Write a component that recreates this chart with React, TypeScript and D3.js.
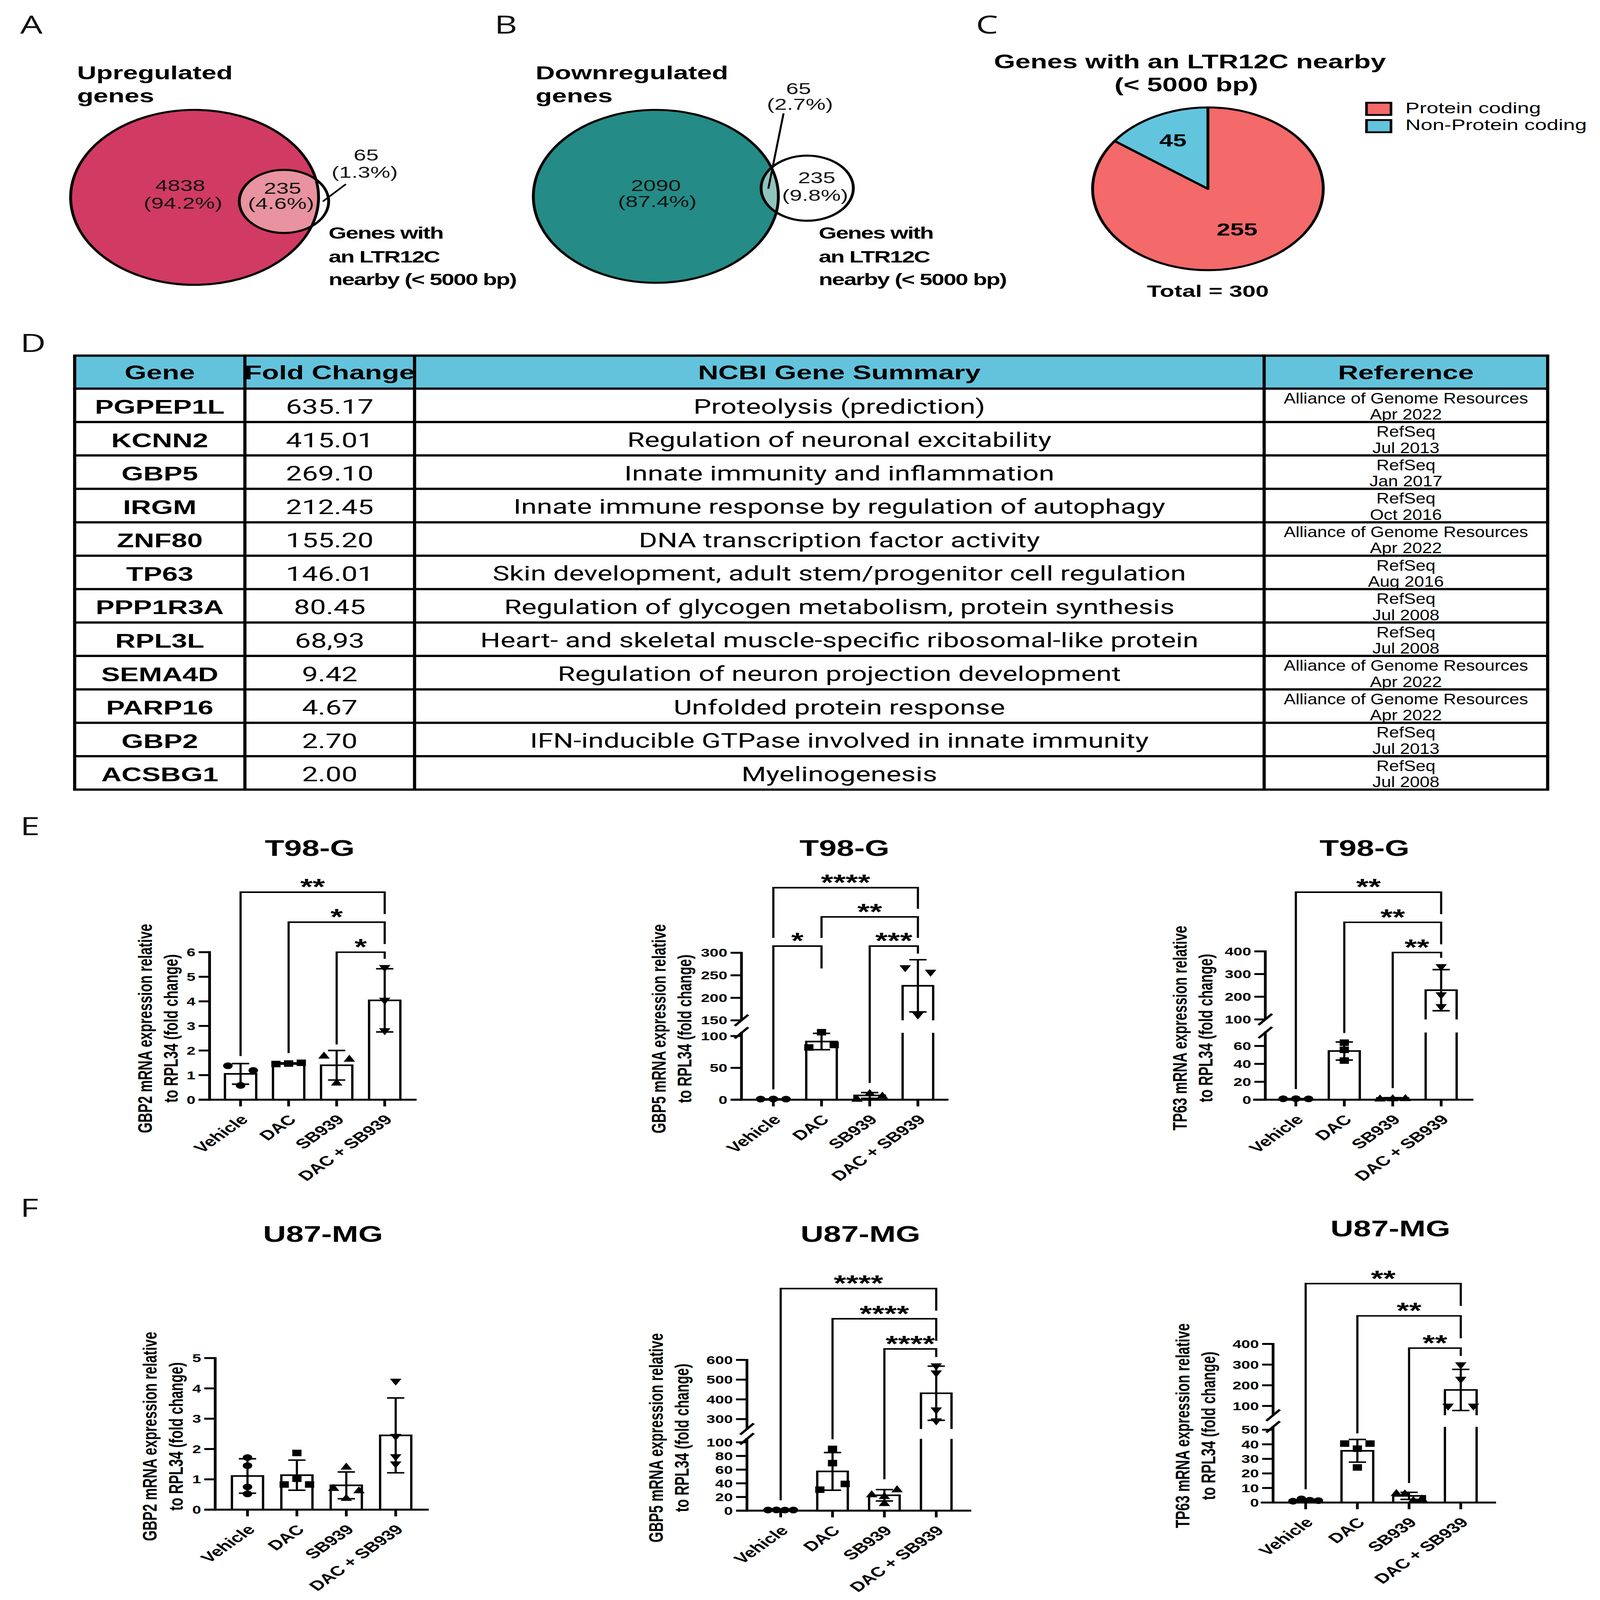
import React, { useEffect } from "react";
import * as d3 from "d3";

const W = 4166;
const H = 5903;
const VW = 1110;
const VH = (VW * H) / W;

const SANS = "'Liberation Sans', Arial, Helvetica, sans-serif";
const ROBOTO = "Roboto, 'Liberation Sans', Arial, sans-serif";
const LETTER = "'Open Sans', 'Liberation Sans', sans-serif";

// ---------------- DATA ----------------
const PANEL_LETTERS = ["A", "B", "C", "D", "E", "F"];

const UP_TITLE = ["Upregulated", "genes"];
const UP_COUNTS = [4838, 235, 65];
const UP_PCTS = ["94.2%", "4.6%", "1.3%"];
const DOWN_TITLE = ["Downregulated", "genes"];
const DOWN_COUNTS = [2090, 235, 65];
const DOWN_PCTS = ["87.4%", "9.8%", "2.7%"];
const LTR_LABEL = ["Genes with", "an LTR12C", "nearby (< 5000 bp)"];

const PIE_TITLE = ["Genes with an LTR12C nearby", "(< 5000 bp)"];
const PIE_CATEGORIES = ["Protein coding", "Non-Protein coding"];
const PIE_VALUES = [255, 45];
const PIE_TOTAL_LABEL = "Total = 300";

const TABLE_HEADERS = ["Gene", "Fold Change", "NCBI Gene Summary", "Reference"];
const GENES = ["PGPEP1L", "KCNN2", "GBP5", "IRGM", "ZNF80", "TP63", "PPP1R3A", "RPL3L", "SEMA4D", "PARP16", "GBP2", "ACSBG1"];
const FOLD_CHANGES = ["635.17", "415.01", "269.10", "212.45", "155.20", "146.01", "80.45", "68,93", "9.42", "4.67", "2.70", "2.00"];
const SUMMARIES = [
  "Proteolysis (prediction)",
  "Regulation of neuronal excitability",
  "Innate immunity and inflammation",
  "Innate immune response by regulation of autophagy",
  "DNA transcription factor activity",
  "Skin development, adult stem/progenitor cell regulation",
  "Regulation of glycogen metabolism, protein synthesis",
  "Heart- and skeletal muscle-specific ribosomal-like protein",
  "Regulation of neuron projection development",
  "Unfolded protein response",
  "IFN-inducible GTPase involved in innate immunity",
  "Myelinogenesis",
];
const REF_SOURCES = [
  "Alliance of Genome Resources", "RefSeq", "RefSeq", "RefSeq", "Alliance of Genome Resources", "RefSeq",
  "RefSeq", "RefSeq", "Alliance of Genome Resources", "Alliance of Genome Resources", "RefSeq", "RefSeq",
];
const REF_DATES = ["Apr 2022", "Jul 2013", "Jan 2017", "Oct 2016", "Apr 2022", "Aug 2016", "Jul 2008", "Jul 2008", "Apr 2022", "Apr 2022", "Jul 2013", "Jul 2008"];

const GROUPS = ["Vehicle", "DAC", "SB939", "DAC + SB939"];
const SHAPES = ["circle", "square", "up", "down"];

const T98_GBP2 = [[1.38, 1.19, 0.58], [1.45, 1.5, 1.47], [1.81, 1.68, 0.71], [5.34, 4.01, 2.77]];
const T98_GBP5 = [[1.0, 0.9, 1.1], [82, 86, 106], [2, 7, 11], [265, 255, 160]];
const T98_TP63 = [[1.0, 0.9, 1.1], [63.7, 55.7, 43.7], [1.8, 2.2, 2.0], [329, 204.7, 152.8]];
const U87_GBP2 = [[1.72, 1.45, 0.75, 0.52], [1.87, 0.83, 0.83, 1.02], [1.43, 0.73, 0.65, 0.4], [4.21, 2.39, 1.72, 1.48]];
const U87_GBP5 = [[1.0, 1.1, 0.9, 1.0], [90.3, 69.5, 30.7, 39.1], [11.7, 24.5, 31.8, 22], [565.5, 529.8, 342, 287]];
const U87_TP63 = [[0.9, 2.5, 1.6, 1.3], [40.5, 40.5, 37, 24.1], [6.8, 6.5, 2.0, 3.0], [295, 225, 95, 95]];

const T98_GBP2_TICKS = [0, 1, 2, 3, 4, 5, 6];
const T98_GBP5_TICKS = [0, 50, 100, 150, 200, 250, 300];
const T98_TP63_TICKS = [0, 20, 40, 60, 100, 200, 300, 400];
const U87_GBP2_TICKS = [0, 1, 2, 3, 4, 5];
const U87_GBP5_TICKS = [0, 20, 40, 60, 80, 100, 300, 400, 500, 600];
const U87_TP63_TICKS = [0, 10, 20, 30, 40, 50, 100, 200, 300, 400];

const T98_GBP2_DOMAINS = [[0, 6]];
const T98_GBP5_DOMAINS = [[0, 105], [150, 300]];
const T98_TP63_DOMAINS = [[0, 75], [100, 400]];
const U87_GBP2_DOMAINS = [[0, 5]];
const U87_GBP5_DOMAINS = [[0, 105], [250, 600]];
const U87_TP63_DOMAINS = [[0, 52], [55, 400]];

const T98_GBP2_SIG = [
  { from: 0, to: 3, label: "**", level: 2 },
  { from: 1, to: 3, label: "*", level: 1 },
  { from: 2, to: 3, label: "*", level: 0 },
];
const T98_GBP5_SIG = [
  { from: 0, to: 3, label: "****", level: 2 },
  { from: 1, to: 3, label: "**", level: 1 },
  { from: 0, to: 1, label: "*", level: 0 },
  { from: 2, to: 3, label: "***", level: 0 },
];
const T98_TP63_SIG = [
  { from: 0, to: 3, label: "**", level: 2 },
  { from: 1, to: 3, label: "**", level: 1 },
  { from: 2, to: 3, label: "**", level: 0 },
];
const U87_GBP2_SIG: any[] = [];
const U87_GBP5_SIG = [
  { from: 0, to: 3, label: "****", level: 2 },
  { from: 1, to: 3, label: "****", level: 1 },
  { from: 2, to: 3, label: "****", level: 0 },
];
const U87_TP63_SIG = [
  { from: 0, to: 3, label: "**", level: 2 },
  { from: 1, to: 3, label: "**", level: 1 },
  { from: 2, to: 3, label: "**", level: 0 },
];

// ---------------- LAYOUT / STYLE ----------------
const COLORS = {
  up: "#d13a63",
  upLight: "#e8939f",
  down: "#248b86",
  downLight: "#8fc4be",
  pie: ["#f4696a", "#63c4dd"],
  header: "#63c3dc",
};

const LETTER_POS = [[14, 33], [343, 33], [677, 33], [14, 346], [14, 821], [14, 1196]];

const VENN_A = {
  id: "clipA", big: [135, 194, 86], small: [197, 198, 31], fill: COLORS.up, light: COLORS.upLight,
  titleX: 53.5, ltrX: 228,
  textPos: [[125, 187.7, 127, 205], [196, 190.5, 195, 205.3], [254, 158, 253, 174.6]],
  leader: [240, 181, 224, 198],
};
const VENN_B = {
  id: "clipB", big: [455, 193, 85], small: [560, 185, 32], fill: COLORS.down, light: COLORS.downLight,
  titleX: 371.6, ltrX: 568,
  textPos: [[455, 187.7, 456, 203.5], [566.6, 180.2, 565.5, 197.2], [554, 92.6, 555, 108]],
  leader: [543.6, 111.4, 533, 185.6],
};

const PIE_LAYOUT = { cx: 838, cy: 185.6, r: 80, labelR: [44.5, 53.5] };

const TBL = { top: 349.6, headH: 32.4, rowH: 32.85, cols: [51.8, 169.9, 287.6, 877, 1073.7] };

const LAYOUT_E1 = { axisX: 145.4, first: 166.9, step: 33.33, barW: 21.7, xAxis: [-7.6, 143.6], labelX: 102, titleY: 833.6, titleDx: -2, ranges: [[1081, 936]], brY: 936, brStep: 29.5 };
const LAYOUT_E2 = { axisX: 514.4, first: 536.5, step: 33.43, barW: 21.2, xAxis: [-6.8, 143.6], labelX: 458.3, titleY: 833.6, titleDx: -0.8, ranges: [[1081, 1015.3], [1003, 936.6]], brY: 930, brStep: 28.7 };
const LAYOUT_E3 = { axisX: 877.8, first: 899, step: 33.6, barW: 21.5, xAxis: [-8.5, 144.4], labelX: 820, titleY: 833.6, titleDx: -2.8, ranges: [[1081, 1015], [1002.1, 935.2]], brY: 936.3, brStep: 29.65 };
const LAYOUT_F1 = { axisX: 149.3, first: 171.7, step: 34.27, barW: 21.6, xAxis: [-7.3, 148.1], labelX: 105.4, titleY: 1212.9, titleDx: 1, ranges: [[1484, 1335]], brY: 1330, brStep: 30 };
const LAYOUT_F2 = { axisX: 518.2, first: 541.6, step: 35.97, barW: 21.2, xAxis: [-7.2, 155.6], labelX: 456.6, titleY: 1212.9, titleDx: 1.4, ranges: [[1485, 1414.4], [1404.7, 1336.8]], brY: 1326, brStep: 29.65 };
const LAYOUT_F3 = { axisX: 883.2, first: 905.8, step: 35.87, barW: 22, xAxis: [-8.5, 154.7], labelX: 821.7, titleY: 1207.4, titleDx: 5, ranges: [[1477, 1402.6], [1391.2, 1321.1]], brY: 1325.2, brStep: 31.7 };

const CHARTS = [
  { key: "e1", title: "T98-G", gene: "GBP2", data: T98_GBP2, ticks: T98_GBP2_TICKS, domains: T98_GBP2_DOMAINS, sig: T98_GBP2_SIG, layout: LAYOUT_E1 },
  { key: "e2", title: "T98-G", gene: "GBP5", data: T98_GBP5, ticks: T98_GBP5_TICKS, domains: T98_GBP5_DOMAINS, sig: T98_GBP5_SIG, layout: LAYOUT_E2 },
  { key: "e3", title: "T98-G", gene: "TP63", data: T98_TP63, ticks: T98_TP63_TICKS, domains: T98_TP63_DOMAINS, sig: T98_TP63_SIG, layout: LAYOUT_E3 },
  { key: "f1", title: "U87-MG", gene: "GBP2", data: U87_GBP2, ticks: U87_GBP2_TICKS, domains: U87_GBP2_DOMAINS, sig: U87_GBP2_SIG, layout: LAYOUT_F1 },
  { key: "f2", title: "U87-MG", gene: "GBP5", data: U87_GBP5, ticks: U87_GBP5_TICKS, domains: U87_GBP5_DOMAINS, sig: U87_GBP5_SIG, layout: LAYOUT_F2 },
  { key: "f3", title: "U87-MG", gene: "TP63", data: U87_TP63, ticks: U87_TP63_TICKS, domains: U87_TP63_DOMAINS, sig: U87_TP63_SIG, layout: LAYOUT_F3 },
];

// ---------------- COMPONENTS ----------------
function Venn({ v, title, counts, pcts }: any) {
  const [bx, by, br] = v.big;
  const [sx, sy, sr] = v.small;
  return (
    <g>
      <defs>
        <clipPath id={v.id}>
          <circle cx={bx} cy={by} r={br} />
        </clipPath>
      </defs>
      <circle cx={bx} cy={by} r={br} fill={v.fill} />
      <circle cx={sx} cy={sy} r={sr} fill="#fff" />
      <circle cx={sx} cy={sy} r={sr} fill={v.light} clipPath={`url(#${v.id})`} />
      <circle cx={bx} cy={by} r={br} fill="none" stroke="#000" strokeWidth={2} />
      <circle cx={sx} cy={sy} r={sr} fill="none" stroke="#000" strokeWidth={2} />
      <line x1={v.leader[0]} y1={v.leader[1]} x2={v.leader[2]} y2={v.leader[3]} stroke="#000" strokeWidth={1.4} />
      {counts.map((c: number, i: number) => (
        <g key={i} fontFamily={SANS} fontSize={15.6} textAnchor="middle" fill="#111">
          <text x={v.textPos[i][0]} y={v.textPos[i][1]}>{c}</text>
          <text x={v.textPos[i][2]} y={v.textPos[i][3]}>({pcts[i]})</text>
        </g>
      ))}
      {title.map((t: string, i: number) => (
        <text key={t} x={v.titleX} y={78 + i * 22.6} fontFamily={SANS} fontWeight="bold" fontSize={18.5}>{t}</text>
      ))}
      {LTR_LABEL.map((t, i) => (
        <text key={t} x={v.ltrX} y={[234.5, 258, 280.4][i]} fontFamily={SANS} fontWeight="bold" fontSize={16} letterSpacing={-0.6}>{t}</text>
      ))}
    </g>
  );
}

function PiePanel() {
  const p = PIE_LAYOUT;
  const arcs = d3.pie<number>().sort(null)(PIE_VALUES);
  const arc = d3.arc<any>().innerRadius(0).outerRadius(p.r);
  return (
    <g>
      {PIE_TITLE.map((t, i) => (
        <text key={t} x={i === 0 ? 825.5 : 823} y={[67.3, 90][i]} textAnchor="middle" fontFamily={SANS} fontWeight="bold" fontSize={19}>{t}</text>
      ))}
      <g transform={`translate(${p.cx},${p.cy})`}>
        {arcs.map((a, i) => (
          <path key={i} d={arc(a) as string} fill={COLORS.pie[i]} stroke="#000" strokeWidth={2} strokeLinejoin="round" />
        ))}
        {arcs.map((a, i) => {
          const c = d3.arc<any>().innerRadius(p.labelR[i]).outerRadius(p.labelR[i]).centroid(a);
          return (
            <text key={"l" + i} x={c[0]} y={c[1]} dy="0.36em" textAnchor="middle" fontFamily={SANS} fontWeight="bold" fontSize={17}>{a.data}</text>
          );
        })}
      </g>
      <text x={838} y={292} textAnchor="middle" fontFamily={SANS} fontWeight="bold" fontSize={16.5}>{PIE_TOTAL_LABEL}</text>
      {PIE_CATEGORIES.map((c, i) => (
        <g key={c}>
          <rect x={948} y={101 + i * 17} width={17} height={12} fill={COLORS.pie[i]} stroke="#000" strokeWidth={1.8} />
          <text x={975} y={111.2 + i * 16.5} fontFamily={SANS} fontSize={14.7}>{c}</text>
        </g>
      ))}
    </g>
  );
}

function Table() {
  const t = TBL;
  const cols = t.cols;
  const centers = cols.slice(0, 4).map((c, i) => (c + cols[i + 1]) / 2);
  const rowTop = (i: number) => t.top + t.headH + i * t.rowH;
  const bottom = rowTop(GENES.length);
  const lw = 2.2;
  return (
    <g>
      <rect x={cols[0]} y={t.top} width={cols[4] - cols[0]} height={t.headH} fill={COLORS.header} />
      {TABLE_HEADERS.map((h, i) => (
        <text key={h} x={centers[i]} y={t.top + 23.4} textAnchor="middle" fontFamily={SANS} fontWeight="bold" fontSize={19.5}>{h}</text>
      ))}
      {GENES.map((g, i) => {
        const y = rowTop(i);
        return (
          <g key={g}>
            <text x={centers[0]} y={y + 24.7} textAnchor="middle" fontFamily={SANS} fontWeight="bold" fontSize={19.5}>{g}</text>
            <text x={centers[1]} y={y + 24.7} textAnchor="middle" fontFamily={ROBOTO} fontSize={19.8}>{FOLD_CHANGES[i]}</text>
            <text x={centers[2]} y={y + 24.5} textAnchor="middle" fontFamily={ROBOTO} fontSize={19.6}>{SUMMARIES[i]}</text>
            <text transform={`translate(${centers[3]},${y + 14.6}) scale(0.82,1)`} textAnchor="middle" fontFamily={SANS} fontSize={15}>{REF_SOURCES[i]}</text>
            <text transform={`translate(${centers[3]},${y + 30.5}) scale(0.82,1)`} textAnchor="middle" fontFamily={SANS} fontSize={15}>{REF_DATES[i]}</text>
          </g>
        );
      })}
      <g stroke="#000" strokeWidth={lw}>
        {d3.range(GENES.length + 1).map((i) => (
          <line key={"h" + i} x1={cols[0] - lw / 2} x2={cols[4] + lw / 2} y1={rowTop(i)} y2={rowTop(i)} />
        ))}
        <line x1={cols[0] - lw / 2} x2={cols[4] + lw / 2} y1={t.top} y2={t.top} />
        {cols.map((c, i) => (
          <line key={"v" + i} x1={c} x2={c} y1={t.top} y2={bottom} />
        ))}
      </g>
    </g>
  );
}

function marker(shape: string) {
  switch (shape) {
    case "circle":
      return { type: "circle", r: 3.3 };
    case "square":
      return { type: "path", d: "M-3.2,-3.2H3.2V3.2H-3.2Z" };
    case "up":
      return { type: "path", d: "M0,-3.6L4,3.3L-4,3.3Z" };
    default:
      return { type: "path", d: "M0,3.6L4,-3.3L-4,-3.3Z" };
  }
}

function jitterOffsets(vals: number[], yf: (v: number) => number, thr: number, d: number) {
  const idx = vals.map((_, i) => i).sort((a, b) => yf(vals[a]) - yf(vals[b]));
  const clusters: number[][] = [];
  let cur = [idx[0]];
  for (let k = 1; k < idx.length; k++) {
    if (Math.abs(yf(vals[idx[k]]) - yf(vals[idx[k - 1]])) < thr) cur.push(idx[k]);
    else {
      clusters.push(cur);
      cur = [idx[k]];
    }
  }
  clusters.push(cur);
  const off = vals.map(() => 0);
  clusters.forEach((c) => {
    const m = [...c].sort((a, b) => a - b);
    let pat: number[];
    if (m.length === 1) pat = [0];
    else if (m.length === 2) pat = [-d, d];
    else if (m.length === 3) pat = [-d, d, 0];
    else pat = m.map((_, j) => (j - (m.length - 1) / 2) * ((2 * d) / (m.length - 1)));
    m.forEach((p, j) => (off[p] = pat[j]));
  });
  return off;
}

function BarChart({ spec }: any) {
  const L = spec.layout;
  const segs = spec.domains.map((dom: number[], i: number) => d3.scaleLinear().domain(dom).range(L.ranges[i]));
  const y = (v: number) => {
    let i = 0;
    while (i < segs.length - 1 && v >= segs[i + 1].domain()[0]) i++;
    return segs[i](v);
  };
  const x = d3.scalePoint<string>().domain(GROUPS).range([L.first, L.first + 3 * L.step]);
  const y0 = L.ranges[0][0];
  const top = L.ranges[L.ranges.length - 1][1];
  const ax = L.axisX;
  const stats = spec.data.map((vals: number[]) => ({ mean: d3.mean(vals) as number, sd: d3.deviation(vals) as number, max: d3.max(vals) as number }));
  const groupTop = stats.map((s: any) => Math.min(y(s.mean + s.sd), y(s.max) - 3.5));
  const by = (level: number) => L.brY - level * L.brStep;
  const legEnd = (br: any, c: number, isRight: boolean) => {
    const lower = spec.sig.filter((o: any) => o.level < br.level && (o.from === c || o.to === c));
    let end: number;
    if (lower.length) end = by(Math.max(...lower.map((o: any) => o.level))) - 8;
    else end = groupTop[c] - 6;
    if (isRight) end = Math.min(end, by(br.level) + 22);
    return end;
  };
  const titleX = (x(GROUPS[0])! + x(GROUPS[3])!) / 2 + L.titleDx;
  const midY = (y0 + top) / 2 + 2.5;
  const lw = 1.9;
  return (
    <g>
      <text x={titleX} y={L.titleY + 7.9} textAnchor="middle" fontFamily={SANS} fontWeight="bold" fontSize={22}>{spec.title}</text>
      {[`${spec.gene} mRNA expression relative`, "to RPL34 (fold change)"].map((t, i) => (
        <text key={t} transform={`translate(${L.labelX + 3.4 + i * 17.9},${midY}) rotate(-90)`} textAnchor="middle" fontFamily={SANS} fontWeight="bold" fontSize={13.4}>{t}</text>
      ))}
      {stats.map((s: any, i: number) => {
        const cx = x(GROUPS[i])!;
        const hw = L.barW / 2;
        if (segs.length === 1 || s.mean < spec.domains[1][0]) {
          return <rect key={"b" + i} x={cx - hw} y={y(s.mean)} width={L.barW} height={y0 - y(s.mean)} fill="#fff" stroke="#000" strokeWidth={1.6} />;
        }
        const lowTop = L.ranges[0][1];
        const upBot = L.ranges[1][0];
        const ym = y(s.mean);
        return (
          <g key={"b" + i} fill="none" stroke="#000" strokeWidth={1.6}>
            <path d={`M${cx - hw},${y0}V${lowTop}M${cx + hw},${y0}V${lowTop}`} />
            <path d={`M${cx - hw},${upBot}V${ym}H${cx + hw}V${upBot}`} />
          </g>
        );
      })}
      {spec.data.map((vals: number[], i: number) => {
        const cx = x(GROUPS[i])!;
        const off = jitterOffsets(vals, y, 6.5, 8.8);
        const mk = marker(SHAPES[i]);
        return (
          <g key={"p" + i} fill="#000">
            {vals.map((v, j) =>
              mk.type === "circle" ? (
                <circle key={j} cx={cx + off[j]} cy={y(v)} r={mk.r} />
              ) : (
                <path key={j} d={mk.d} transform={`translate(${cx + off[j]},${y(v)})`} />
              )
            )}
          </g>
        );
      })}
      {stats.map((s: any, i: number) => {
        const cx = x(GROUPS[i])!;
        const yt = y(s.mean + s.sd);
        const yb = y(Math.max(s.mean - s.sd, 0));
        return (
          <path key={"e" + i} d={`M${cx},${yb}V${yt}M${cx - 6},${yt}H${cx + 6}M${cx - 6},${yb}H${cx + 6}`} stroke="#000" strokeWidth={1.5} fill="none" />
        );
      })}
      <g stroke="#000" strokeWidth={lw} fill="none">
        <line x1={ax + L.xAxis[0]} x2={ax + L.xAxis[1]} y1={y0} y2={y0} />
        {L.ranges.map((r: number[], i: number) => (
          <line key={"ax" + i} x1={ax} x2={ax} y1={i === 0 ? y0 + lw / 2 : r[0]} y2={r[1] - lw / 2} />
        ))}
        {L.ranges.slice(1).map((r: number[], i: number) => (
          <g key={"br" + i}>
            <line x1={ax - 4.7} y1={L.ranges[i][1] + 5.5} x2={ax + 4.7} y2={L.ranges[i][1] - 5.5} />
            <line x1={ax - 4.7} y1={r[0] + 5.5} x2={ax + 4.7} y2={r[0] - 5.5} />
          </g>
        ))}
        {spec.ticks.map((t: number) => (
          <line key={"t" + t} x1={ax - 7.6} x2={ax} y1={y(t)} y2={y(t)} />
        ))}
        {GROUPS.map((g) => (
          <line key={"xt" + g} x1={x(g)} x2={x(g)} y1={y0} y2={y0 + 6.6} />
        ))}
      </g>
      {spec.ticks.map((t: number) => (
        <text key={"tl" + t} x={ax - 9.8} y={y(t)} dy="0.36em" textAnchor="end" fontFamily={SANS} fontWeight="bold" fontSize={11}>{t}</text>
      ))}
      {GROUPS.map((g) => (
        <text key={"xl" + g} transform={`translate(${x(g)! + 2.5},${y0 + 17}) rotate(-45)`} dy="0.36em" textAnchor="end" fontFamily={SANS} fontWeight="bold" fontSize={13.4}>{g}</text>
      ))}
      {spec.sig.map((b: any, k: number) => {
        const xl = x(GROUPS[b.from])!;
        const xr = x(GROUPS[b.to])!;
        const yb = by(b.level);
        const el = legEnd(b, b.from, false);
        const er = legEnd(b, b.to, true);
        return (
          <g key={"s" + k}>
            <path d={`M${xl},${el}V${yb}H${xr}V${er}`} fill="none" stroke="#000" strokeWidth={1.5} />
            <text x={(xl + xr) / 2} y={yb + 2.5} textAnchor="middle" fontFamily={SANS} fontWeight="bold" fontSize={22}>{b.label}</text>
          </g>
        );
      })}
    </g>
  );
}

export default function App() {
  useEffect(() => {
    document.documentElement.style.margin = "0";
    document.body.style.margin = "0";
    document.body.style.overflow = "hidden";
  }, []);
  return (
    <svg
      xmlns="http://www.w3.org/2000/svg"
      viewBox={`0 0 ${VW} ${VH}`}
      preserveAspectRatio="none"
      style={{ position: "fixed", left: 0, top: 0, width: "100vw", height: "100vh", display: "block", background: "#fff" }}
    >
      <rect x={0} y={0} width={VW} height={VH} fill="#fff" />
      {PANEL_LETTERS.map((l, i) => (
        <text key={l} x={LETTER_POS[i][0]} y={LETTER_POS[i][1]} fontFamily={LETTER} fontSize={24.5} fill="#111">{l}</text>
      ))}
      <Venn v={VENN_A} title={UP_TITLE} counts={UP_COUNTS} pcts={UP_PCTS} />
      <Venn v={VENN_B} title={DOWN_TITLE} counts={DOWN_COUNTS} pcts={DOWN_PCTS} />
      <PiePanel />
      <Table />
      {CHARTS.map((c) => (
        <BarChart key={c.key} spec={c} />
      ))}
    </svg>
  );
}
